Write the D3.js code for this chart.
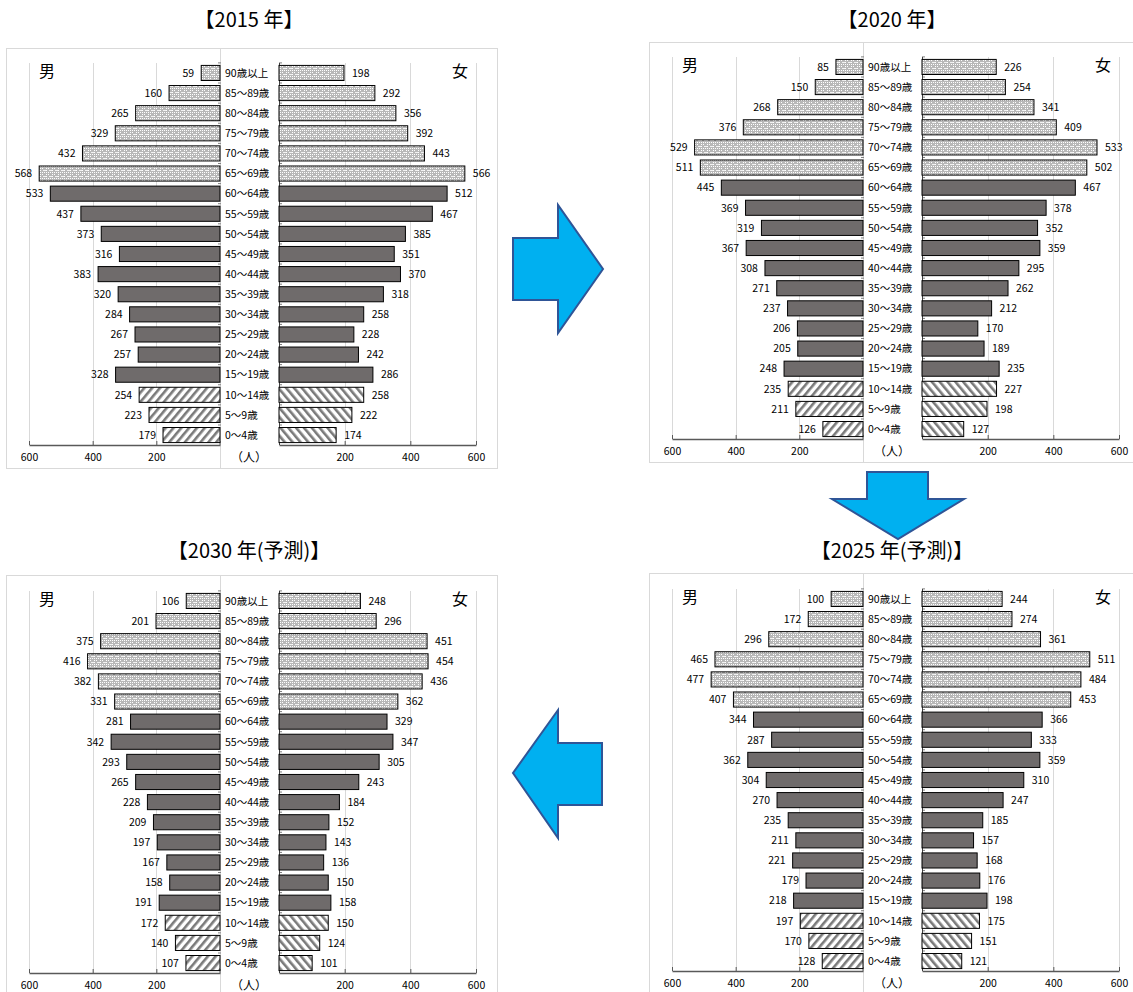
<!DOCTYPE html>
<html>
<head>
<meta charset="utf-8">
<script src="https://cdnjs.cloudflare.com/ajax/libs/d3/7.8.5/d3.min.js"></script>
<style>
  body { margin: 0; background: #fff; }
  svg text { font-family: "Noto Sans CJK JP", "DejaVu Sans", sans-serif; font-weight: 400; }
</style>
</head>
<body>
<svg width="1133" height="992"></svg>
<script>
var ages = ["90歳以上", "85〜89歳", "80〜84歳", "75〜79歳", "70〜74歳", "65〜69歳",
            "60〜64歳", "55〜59歳", "50〜54歳", "45〜49歳", "40〜44歳", "35〜39歳",
            "30〜34歳", "25〜29歳", "20〜24歳", "15〜19歳", "10〜14歳", "5〜9歳", "0〜4歳"];

var male2015 = [59, 160, 265, 329, 432, 568, 533, 437, 373, 316, 383, 320, 284, 267, 257, 328, 254, 223, 179];
var female2015 = [198, 292, 356, 392, 443, 566, 512, 467, 385, 351, 370, 318, 258, 228, 242, 286, 258, 222, 174];
var male2020 = [85, 150, 268, 376, 529, 511, 445, 369, 319, 367, 308, 271, 237, 206, 205, 248, 235, 211, 126];
var female2020 = [226, 254, 341, 409, 533, 502, 467, 378, 352, 359, 295, 262, 212, 170, 189, 235, 227, 198, 127];
var male2025 = [100, 172, 296, 465, 477, 407, 344, 287, 362, 304, 270, 235, 211, 221, 179, 218, 197, 170, 128];
var female2025 = [244, 274, 361, 511, 484, 453, 366, 333, 359, 310, 247, 185, 157, 168, 176, 198, 175, 151, 121];
var male2030 = [106, 201, 375, 416, 382, 331, 281, 342, 293, 265, 228, 209, 197, 167, 158, 191, 172, 140, 107];
var female2030 = [248, 296, 451, 454, 436, 362, 329, 347, 305, 243, 184, 152, 143, 136, 150, 158, 150, 124, 101];

var ticks = [200, 400, 600];

var svg = d3.select("svg");
var defs = svg.append("defs");

// dotted pattern for 65+
var pOld = defs.append("pattern").attr("id", "pOld")
    .attr("patternUnits", "userSpaceOnUse").attr("width", 6).attr("height", 6);
pOld.append("rect").attr("width", 6).attr("height", 6).attr("fill", "#b8b8b8");
[[0, 0], [2, 2], [4, 0], [0, 4], [4, 4], [2, 4], [4, 2]].forEach(function(p) {
  pOld.append("rect").attr("x", p[0]).attr("y", p[1]).attr("width", 1).attr("height", 1).attr("fill", "#fff");
});
pOld.append("rect").attr("x", 1).attr("y", 2).attr("width", 3).attr("height", 1).attr("fill", "#f2f2f2");

// hatch patterns for children
function hatch(id, angle) {
  var p = defs.append("pattern").attr("id", id)
      .attr("patternUnits", "userSpaceOnUse").attr("width", 6).attr("height", 6)
      .attr("patternTransform", "rotate(" + angle + ")");
  p.append("rect").attr("width", 6).attr("height", 6).attr("fill", "#fff");
  p.append("rect").attr("x", 0).attr("width", 2.6).attr("height", 6).attr("fill", "#7a7a7a");
}
hatch("pMaleKid", 40);
hatch("pFemaleKid", -40);

function fillFor(i, side) {
  if (i < 6) return "url(#pOld)";
  if (i < 16) return "#6f6b6b";
  return side == "m" ? "url(#pMaleKid)" : "url(#pFemaleKid)";
}

function panel(o) {
  var g = svg.append("g").attr("transform", "translate(" + o.ox + ",0)");

  g.append("text")
      .attr("x", 243).attr("y", o.titleY)
      .attr("text-anchor", "middle").attr("dy", "0.36em")
      .style("font-size", "20px")
      .text(o.title);

  g.append("rect")
      .attr("x", 0.5).attr("y", o.frameTop + 0.5)
      .attr("width", o.frameW).attr("height", o.frameBottom - o.frameTop)
      .attr("fill", "#fff").attr("stroke", "#d9d9d9");

  var xl = d3.scaleLinear().domain([0, 600]).range([214, 23]);
  var xr = d3.scaleLinear().domain([0, 600]).range([273, 470]);
  var y = d3.scaleBand().domain(ages).range([o.plotTop, o.axisY]).paddingInner(0.25).paddingOuter(0.12);

  // centre divider
  g.append("line")
      .attr("x1", 214.5).attr("x2", 214.5)
      .attr("y1", o.frameTop).attr("y2", o.frameBottom)
      .attr("stroke", "#d9d9d9");

  // grid
  ticks.forEach(function(t) {
    [xl(t), xr(t)].forEach(function(xx) {
      g.append("line")
          .attr("x1", Math.round(xx) + 0.5).attr("x2", Math.round(xx) + 0.5)
          .attr("y1", o.plotTop).attr("y2", o.axisY)
          .attr("stroke", "#d9d9d9");
    });
  });

  // value axes
  g.append("g")
      .attr("transform", "translate(0," + o.axisY + ")")
      .call(d3.axisBottom(xl).tickValues(ticks).tickSizeInner(-4).tickSizeOuter(0).tickPadding(9))
      .call(styleAxis);
  g.append("g")
      .attr("transform", "translate(0," + o.axisY + ")")
      .call(d3.axisBottom(xr).tickValues([0].concat(ticks)).tickSizeInner(-4).tickSizeOuter(0).tickPadding(9)
        .tickFormat(function(d) { return d == 0 ? "" : d; }))
      .call(styleAxis);
  // left axis 0 tick
  g.append("line")
      .attr("x1", xl(0)).attr("x2", xl(0)).attr("y1", o.axisY - 4).attr("y2", o.axisY)
      .attr("stroke", "#595959");

  g.append("text")
      .attr("x", 243).attr("y", o.axisY + 13)
      .attr("text-anchor", "middle").attr("dy", "0.36em")
      .style("font-size", "12px")
      .text("（人）");

  // category ticks
  var bounds = ages.map(function(a) { return y(a) - y.step() * y.paddingInner() / 2; });
  bounds.forEach(function(b) {
    g.append("line").attr("x1", 212).attr("x2", 215).attr("y1", b).attr("y2", b).attr("stroke", "#7f7f7f");
    g.append("line").attr("x1", 273).attr("x2", 276).attr("y1", b).attr("y2", b).attr("stroke", "#7f7f7f");
  });
  g.append("line")
      .attr("x1", 273.5).attr("x2", 273.5)
      .attr("y1", o.plotTop).attr("y2", o.axisY)
      .attr("stroke", "#404040");

  // bars
  g.selectAll(".mbar").data(o.male).enter().append("rect")
      .attr("class", "mbar")
      .attr("x", function(d) { return xl(d); })
      .attr("y", function(d, i) { return y(ages[i]); })
      .attr("width", function(d) { return xl(0) - xl(d); })
      .attr("height", y.bandwidth())
      .attr("fill", function(d, i) { return fillFor(i, "m"); })
      .attr("stroke", "#000").attr("stroke-width", 1);

  g.selectAll(".fbar").data(o.female).enter().append("rect")
      .attr("class", "fbar")
      .attr("x", xr(0))
      .attr("y", function(d, i) { return y(ages[i]); })
      .attr("width", function(d) { return xr(d) - xr(0); })
      .attr("height", y.bandwidth())
      .attr("fill", function(d, i) { return fillFor(i, "f"); })
      .attr("stroke", "#000").attr("stroke-width", 1);

  // value labels
  g.selectAll(".mlab").data(o.male).enter().append("text")
      .attr("x", function(d) { return xl(d) - 7; })
      .attr("y", function(d, i) { return y(ages[i]) + y.bandwidth() / 2; })
      .attr("dy", "0.36em").attr("text-anchor", "end")
      .style("font-size", "10.5px")
      .text(function(d) { return d; });
  g.selectAll(".flab").data(o.female).enter().append("text")
      .attr("x", function(d) { return xr(d) + 8; })
      .attr("y", function(d, i) { return y(ages[i]) + y.bandwidth() / 2; })
      .attr("dy", "0.36em").attr("text-anchor", "start")
      .style("font-size", "10.5px")
      .text(function(d) { return d; });

  // age labels
  g.selectAll(".alab").data(ages).enter().append("text")
      .attr("x", 219)
      .attr("y", function(d) { return y(d) + y.bandwidth() / 2; })
      .attr("dy", "0.36em")
      .style("font-size", "10.5px")
      .text(function(d) { return d; });

  g.append("text").attr("x", 41).attr("y", o.plotTop + 8)
      .attr("text-anchor", "middle").attr("dy", "0.36em")
      .style("font-size", "16px").text("男");
  g.append("text").attr("x", 454).attr("y", o.plotTop + 8)
      .attr("text-anchor", "middle").attr("dy", "0.36em")
      .style("font-size", "16px").text("女");
}

function styleAxis(sel) {
  sel.select(".domain").attr("stroke", "#595959").attr("stroke-width", 1.5);
  sel.selectAll(".tick line").attr("stroke", "#595959");
  sel.selectAll(".tick text").style("font-size", "10.5px").attr("fill", "#000")
      .style("font-family", "'Noto Sans CJK JP', sans-serif");
}

panel({ox: 6, title: "【2015 年】", titleY: 20, frameTop: 48, frameBottom: 468, frameW: 491,
       plotTop: 63, axisY: 445, male: male2015, female: female2015});
panel({ox: 649, title: "【2020 年】", titleY: 20, frameTop: 42, frameBottom: 462, frameW: 490,
       plotTop: 57, axisY: 439, male: male2020, female: female2020});
panel({ox: 649, title: "【2025 年(予測)】", titleY: 551, frameTop: 573, frameBottom: 995, frameW: 490,
       plotTop: 589, axisY: 971, male: male2025, female: female2025});
panel({ox: 6, title: "【2030 年(予測)】", titleY: 551, frameTop: 575, frameBottom: 995, frameW: 491,
       plotTop: 591, axisY: 973, male: male2030, female: female2030});

// arrows between panels
var arrowFill = "#00b0f0", arrowStroke = "#2f5597";
var line = d3.line();
svg.append("path")
    .attr("d", line([[513, 238], [558, 238], [558, 205], [603, 269], [558, 333], [558, 300], [513, 300]]) + "Z")
    .attr("fill", arrowFill).attr("stroke", arrowStroke).attr("stroke-width", 2);
svg.append("path")
    .attr("d", line([[867, 472], [928, 472], [928, 499], [964, 499], [898, 539], [832, 499], [867, 499]]) + "Z")
    .attr("fill", arrowFill).attr("stroke", arrowStroke).attr("stroke-width", 2);
svg.append("path")
    .attr("d", line([[602, 743], [558, 743], [558, 710], [513, 773], [558, 838], [558, 805], [602, 805]]) + "Z")
    .attr("fill", arrowFill).attr("stroke", arrowStroke).attr("stroke-width", 2);
</script>
</body>
</html>
